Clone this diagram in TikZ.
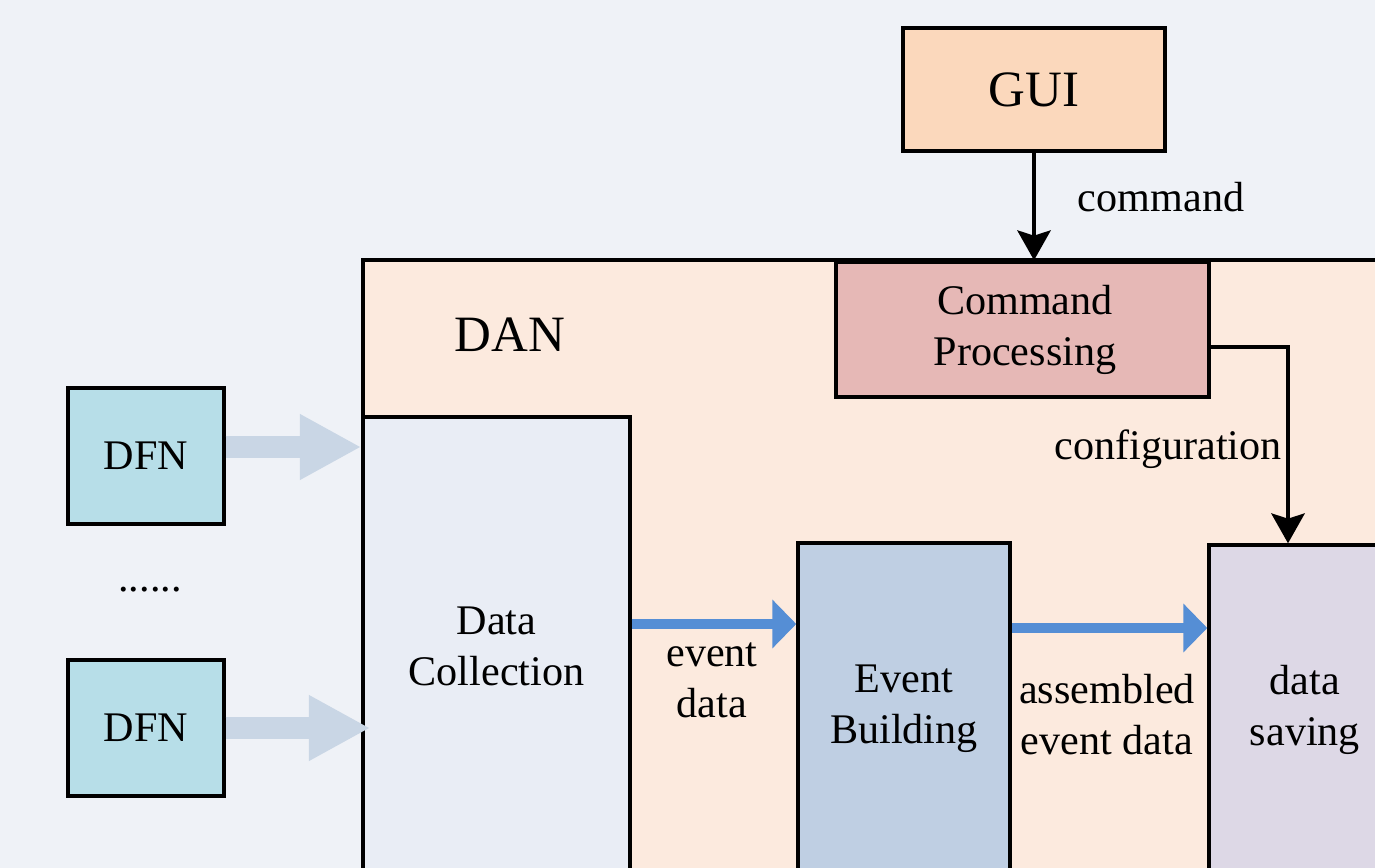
\documentclass[tikz,border=0pt]{standalone}
\usepackage{fontspec}
\setmainfont{Liberation Serif}
\usetikzlibrary{calc,arrows.meta}

\definecolor{bgcol}{HTML}{EFF2F7}
\definecolor{dancol}{HTML}{FCEADE}
\definecolor{guicol}{HTML}{FBD8BC}
\definecolor{cmdcol}{HTML}{E6B8B6}
\definecolor{dfncol}{HTML}{B7DEE8}
\definecolor{collcol}{HTML}{E9EDF5}
\definecolor{evtcol}{HTML}{BFCFE3}
\definecolor{savecol}{HTML}{DDD8E6}
\definecolor{fatcol}{HTML}{C9D6E5}
\definecolor{flowcol}{HTML}{558ED5}

\tikzset{
	blockbox/.style={draw=black, line width=2pt, align=center, inner sep=0pt,
		font=\fontsize{24}{29}\selectfont},
	lbl/.style={align=center, inner sep=0pt, font=\fontsize{24}{29}\selectfont},
	fatarrow/.style={draw=fatcol, line width=12pt, -{Triangle[length=35pt, width=35pt]}},
	flowarrow/.style={draw=flowcol, line width=5.8pt, -{Triangle[length=13.6pt, width=27pt]}},
	cmdarrow/.style={draw=black, line width=2pt, -{Stealth[length=17pt, width=19pt, inset=3pt]}}
}

\begin{document}
\begin{tikzpicture}[x=0.02cm, y=-0.02cm]
		%%%%% START %%%%%
		
		\useasboundingbox (0, 0) rectangle (1375, 868);
		\clip (0, 0) rectangle (1375, 868);
		\fill[bgcol] (0, 0) rectangle (1375, 868);
		
		% DAN frame
		\draw[fill=dancol, line width=2pt] (363, 260) rectangle (1420, 900);
		\node[lbl, font=\fontsize{29}{34}\selectfont] (dan) at (510, 335) {DAN};
		
		\node[blockbox, fill=guicol, minimum width=5.24cm, minimum height=2.46cm,
			font=\fontsize{29}{34}\selectfont] (gui) at (1034, 89.5) {GUI};
		\node[blockbox, fill=cmdcol, minimum width=7.46cm, minimum height=2.7cm] (cmd) at (1022.5, 329.5) {\hspace*{0.1cm}Command\\\hspace*{0.1cm}Processing};
		
		\node[blockbox, fill=dfncol, minimum width=3.12cm, minimum height=2.72cm] (dfna) at (146, 456) {DFN};
		\node[blockbox, fill=dfncol, minimum width=3.12cm, minimum height=2.72cm] (dfnb) at (146, 728) {DFN};
		\node[lbl] (dots) at (150, 590) {......};
		
		\node[blockbox, fill=collcol, minimum width=5.34cm, minimum height=9.16cm] (coll) at (496.5, 646) {Data\\Collection};
		\node[blockbox, fill=evtcol, minimum width=4.24cm, minimum height=6.64cm] (evt) at (904, 709) {Event\\Building};
		\node[blockbox, fill=savecol, minimum width=3.84cm, minimum height=6.6cm] (save) at (1305, 710) {data\\saving};
		
		% control
		\draw[cmdarrow] (gui.south) -- (gui.south |- cmd.north);
		\node[lbl] (cmdlbl) at (1161, 197) {command};
		\draw[cmdarrow] ([yshift=-0.35cm]cmd.east) -| ([xshift=-0.34cm]save.north);
		\node[lbl] (cfglbl) at (1168, 449) {configuration};
		
		% data flow
		\draw[fatarrow] (dfna.east |- 0, 447) -- (coll.west |- 0, 447);
		\draw[fatarrow] (dfnb.east) -- ($(coll.west |- dfnb.east)+(9, 0)$);
		\draw[flowarrow] (coll.east |- 0, 624) -- (evt.west |- 0, 624);
		\node[lbl] (evlbl) at (712, 680) {event\\data};
		\draw[flowarrow] (evt.east |- 0, 628) -- (save.west |- 0, 628);
		\node[lbl] (asmlbl) at (1107, 715) {assembled\\event data};
		
		%%%%% END %%%%%
	\end{tikzpicture}
\end{document}
